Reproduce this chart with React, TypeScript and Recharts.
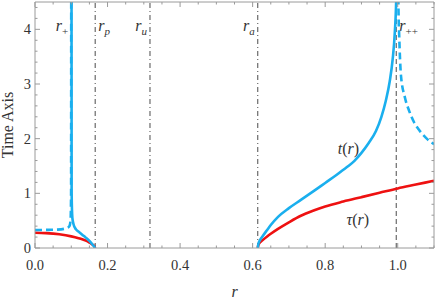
import React from "react";
import { LineChart, Line, XAxis, YAxis, ReferenceLine, ReferenceDot } from "recharts";

// ---- data ----
const xTicks = [0, 0.05, 0.1, 0.15, 0.2, 0.25, 0.3, 0.35, 0.4, 0.45, 0.5, 0.55, 0.6, 0.65, 0.7, 0.75, 0.8, 0.85, 0.9, 0.95, 1.0, 1.05, 1.1];
const yTicks = [0, 0.2, 0.4, 0.6, 0.8, 1, 1.2, 1.4, 1.6, 1.8, 2, 2.2, 2.4, 2.6, 2.8, 3, 3.2, 3.4, 3.6, 3.8, 4, 4.2, 4.4];

const blueLeftDash = [
  { x: 0, y: 0.33 }, { x: 0.02, y: 0.33 }, { x: 0.04, y: 0.332 }, { x: 0.06, y: 0.336 },
  { x: 0.08, y: 0.35 }, { x: 0.09, y: 0.37 }, { x: 0.095, y: 0.4 }, { x: 0.098, y: 0.5 },
  { x: 0.0995, y: 1.0 }, { x: 0.1, y: 7 },
];
const blueLeftSolid = [
  { x: 0.1005, y: 7 }, { x: 0.101, y: 1.0 }, { x: 0.103, y: 0.55 }, { x: 0.106, y: 0.44 },
  { x: 0.113, y: 0.34 }, { x: 0.122, y: 0.29 }, { x: 0.131, y: 0.24 }, { x: 0.14, y: 0.19 },
  { x: 0.15, y: 0.13 }, { x: 0.159, y: 0.06 }, { x: 0.166, y: 0 },
];
const redLeft = [
  { x: 0, y: 0.28 }, { x: 0.03, y: 0.272 }, { x: 0.067, y: 0.25 }, { x: 0.1, y: 0.213 },
  { x: 0.12, y: 0.18 }, { x: 0.13, y: 0.16 }, { x: 0.14, y: 0.135 }, { x: 0.15, y: 0.1 },
  { x: 0.158, y: 0.065 }, { x: 0.163, y: 0.035 }, { x: 0.166, y: 0 },
];
const blueRight = [
  { x: 0.614, y: 0 }, { x: 0.616, y: 0.08 }, { x: 0.62, y: 0.14 }, { x: 0.627, y: 0.21 },
  { x: 0.64, y: 0.33 }, { x: 0.65, y: 0.42 }, { x: 0.67, y: 0.57 }, { x: 0.7, y: 0.73 },
  { x: 0.733, y: 0.88 }, { x: 0.77, y: 1.05 }, { x: 0.8, y: 1.19 }, { x: 0.83, y: 1.33 },
  { x: 0.86, y: 1.48 }, { x: 0.88, y: 1.59 }, { x: 0.9, y: 1.74 }, { x: 0.92, y: 1.92 },
  { x: 0.94, y: 2.14 }, { x: 0.955, y: 2.4 }, { x: 0.967, y: 2.69 }, { x: 0.978, y: 3.05 },
  { x: 0.986, y: 3.45 }, { x: 0.992, y: 3.95 }, { x: 0.996, y: 4.6 }, { x: 1.0, y: 7 },
];
const blueRightDash = [
  { x: 1.0, y: 7 }, { x: 1.002, y: 4.4 }, { x: 1.004, y: 3.9 }, { x: 1.009, y: 3.15 },
  { x: 1.02, y: 2.75 }, { x: 1.032, y: 2.5 }, { x: 1.045, y: 2.3 }, { x: 1.06, y: 2.15 },
  { x: 1.08, y: 2.0 }, { x: 1.1, y: 1.9 },
];
const redRight = [
  { x: 0.614, y: 0 }, { x: 0.616, y: 0.06 }, { x: 0.62, y: 0.1 }, { x: 0.627, y: 0.14 },
  { x: 0.64, y: 0.21 }, { x: 0.65, y: 0.26 }, { x: 0.67, y: 0.35 }, { x: 0.7, y: 0.47 },
  { x: 0.733, y: 0.59 }, { x: 0.77, y: 0.69 }, { x: 0.8, y: 0.76 }, { x: 0.85, y: 0.85 },
  { x: 0.9, y: 0.93 }, { x: 0.95, y: 1.01 }, { x: 1.0, y: 1.09 }, { x: 1.05, y: 1.16 },
  { x: 1.1, y: 1.23 },
];

// vertical markers
const markers = [
  { x: 0.166, main: "r", sub: "p", side: "right", dash: "5 3 1 3" },
  { x: 0.317, main: "r", sub: "u", side: "left", dash: "5 3 1 3" },
  { x: 0.614, main: "r", sub: "a", side: "left", dash: "5 3 1 3" },
  { x: 0.996, main: "r", sub: "++", side: "right", dash: "5 3" },
];
const rPlus = { x: 0.1, main: "r", sub: "+" };
const curveLabels = [
  { x: 0.864, y: 1.72, text: "t", arg: "r" },
  { x: 0.89, y: 0.42, text: "τ", arg: "r" },
];

const FONT = "Liberation Serif, DejaVu Serif, serif";
const FRAME = "#9a9a9a";
const TXT = "#333";
const BLUE = "#1AAFEE";
const RED = "#EE1111";

const isMajorX = (v: number) => Math.abs(v * 5 - Math.round(v * 5)) < 1e-6;
const isMajorY = (v: number) => Math.abs(v - Math.round(v)) < 1e-6;

const BottomTick = (p: any) => {
  const v = p.payload.value;
  const major = isMajorX(v);
  return (
    <g>
      <line x1={p.x} x2={p.x} y1={p.y} y2={p.y - (major ? 5 : 2.5)} stroke={FRAME} />
      {major && (
        <text x={p.x} y={p.y + 22} textAnchor="middle" style={{ fontFamily: FONT }} fontSize={14.5} fill={TXT}>
          {v.toFixed(1)}
        </text>
      )}
    </g>
  );
};
const TopTick = (p: any) => {
  const major = isMajorX(p.payload.value);
  return <line x1={p.x} x2={p.x} y1={p.y} y2={p.y + (major ? 5 : 2.5)} stroke={FRAME} />;
};
const LeftTick = (p: any) => {
  const v = p.payload.value;
  const major = isMajorY(v);
  return (
    <g>
      <line x1={p.x} x2={p.x + (major ? 5 : 2.5)} y1={p.y} y2={p.y} stroke={FRAME} />
      {major && (
        <text x={p.x - 4} y={p.y + 5} textAnchor="end" style={{ fontFamily: FONT }} fontSize={14.5} fill={TXT}>
          {String(Math.round(v))}
        </text>
      )}
    </g>
  );
};
const RightTick = (p: any) => {
  const major = isMajorY(p.payload.value);
  return <line x1={p.x} x2={p.x - (major ? 5 : 2.5)} y1={p.y} y2={p.y} stroke={FRAME} />;
};

const markerLabel = (m: any) => (props: any) => {
  const vb = props.viewBox || {};
  const right = m.side === "right";
  const x = right ? vb.x + 3 : vb.x - 3;
  return (
    <text x={x} y={(vb.y || 0) + 29} textAnchor={right ? "start" : "end"} style={{ fontFamily: FONT }} fill={TXT} fontSize={16}>
      <tspan fontStyle="italic">{m.main}</tspan>
      <tspan fontStyle={m.sub === "++" || m.sub === "+" ? "normal" : "italic"} fontSize={11} dy={4}>{m.sub}</tspan>
    </text>
  );
};

const curveLabel = (c: any) => (props: any) => {
  const vb = props.viewBox || {};
  const cx = (vb.x || 0) + (vb.width || 0) / 2;
  const cy = (vb.y || 0) + (vb.height || 0) / 2;
  return (
    <text x={cx} y={cy} textAnchor="middle" style={{ fontFamily: FONT }} fill={TXT} fontSize={16}>
      <tspan fontStyle="italic">{c.text}</tspan>
      <tspan>(</tspan>
      <tspan fontStyle="italic">{c.arg}</tspan>
      <tspan>)</tspan>
    </text>
  );
};

export default function App() {
  const lineCommon = {
    dataKey: "y",
    dot: false,
    activeDot: false,
    isAnimationActive: false,
    type: "monotone" as const,
    strokeWidth: 2.6,
  };
  return (
    <div style={{ position: "absolute", left: 0, top: 0, fontFamily: FONT }}>
      <LineChart width={436} height={301} margin={{ top: 1, right: 1, bottom: 0, left: 0 }}>
        <XAxis
          xAxisId={0}
          dataKey="x"
          type="number"
          domain={[0, 1.1]}
          ticks={xTicks}
          interval={0}
          allowDataOverflow
          height={53}
          tickSize={0}
          tickMargin={0}
          tickLine={false}
          axisLine={{ stroke: FRAME }}
          tick={<BottomTick />}
          label={{
            content: (p: any) => {
              const vb = p.viewBox || {};
              return (
                <text x={vb.x + vb.width / 2} y={vb.y + 49} textAnchor="middle" style={{ fontFamily: FONT }} fontStyle="italic" fontSize={16} fill={TXT}>
                  r
                </text>
              );
            },
          }}
        />
        <XAxis
          xAxisId="top"
          orientation="top"
          dataKey="x"
          type="number"
          domain={[0, 1.1]}
          ticks={xTicks}
          interval={0}
          allowDataOverflow
          height={1}
          tickSize={0}
          tickMargin={0}
          tickLine={false}
          axisLine={{ stroke: FRAME }}
          tick={<TopTick />}
        />
        <YAxis
          yAxisId={0}
          type="number"
          domain={[0, 4.5]}
          ticks={yTicks}
          interval={0}
          allowDataOverflow
          width={35}
          tickSize={0}
          tickMargin={0}
          tickLine={false}
          axisLine={{ stroke: FRAME }}
          tick={<LeftTick />}
          label={{
            content: (p: any) => {
              const vb = p.viewBox || {};
              const cx = (vb.x || 0) + 13;
              const cy = vb.y + vb.height / 2;
              return (
                <text x={cx} y={cy} transform={`rotate(-90 ${cx} ${cy})`} textAnchor="middle" style={{ fontFamily: FONT }} fontSize={16} fill={TXT}>
                  Time Axis
                </text>
              );
            },
          }}
        />
        <YAxis
          yAxisId="right"
          orientation="right"
          type="number"
          domain={[0, 4.5]}
          ticks={yTicks}
          interval={0}
          allowDataOverflow
          width={1}
          tickSize={0}
          tickMargin={0}
          tickLine={false}
          axisLine={{ stroke: FRAME }}
          tick={<RightTick />}
        />
        {markers.map((m) => (
          <ReferenceLine key={m.sub} x={m.x} stroke="#6a6a6a" strokeWidth={1.2} strokeDasharray={m.dash} label={markerLabel(m)} />
        ))}
        <Line {...lineCommon} data={redLeft} stroke={RED} />
        <Line {...lineCommon} data={redRight} stroke={RED} />
        <Line {...lineCommon} data={blueLeftDash} stroke={BLUE} strokeDasharray="7 4" />
        <Line {...lineCommon} data={blueLeftSolid} stroke={BLUE} />
        <Line {...lineCommon} data={blueRight} stroke={BLUE} />
        <Line {...lineCommon} data={blueRightDash} stroke={BLUE} strokeDasharray="7 4" />
        <ReferenceDot x={rPlus.x} y={4.5} r={0} fill="none" stroke="none" label={markerLabel({ ...rPlus, side: "left" })} />
        {curveLabels.map((c) => (
          <ReferenceDot key={c.text} x={c.x} y={c.y} r={0} fill="none" stroke="none" label={curveLabel(c)} />
        ))}
      </LineChart>
    </div>
  );
}
